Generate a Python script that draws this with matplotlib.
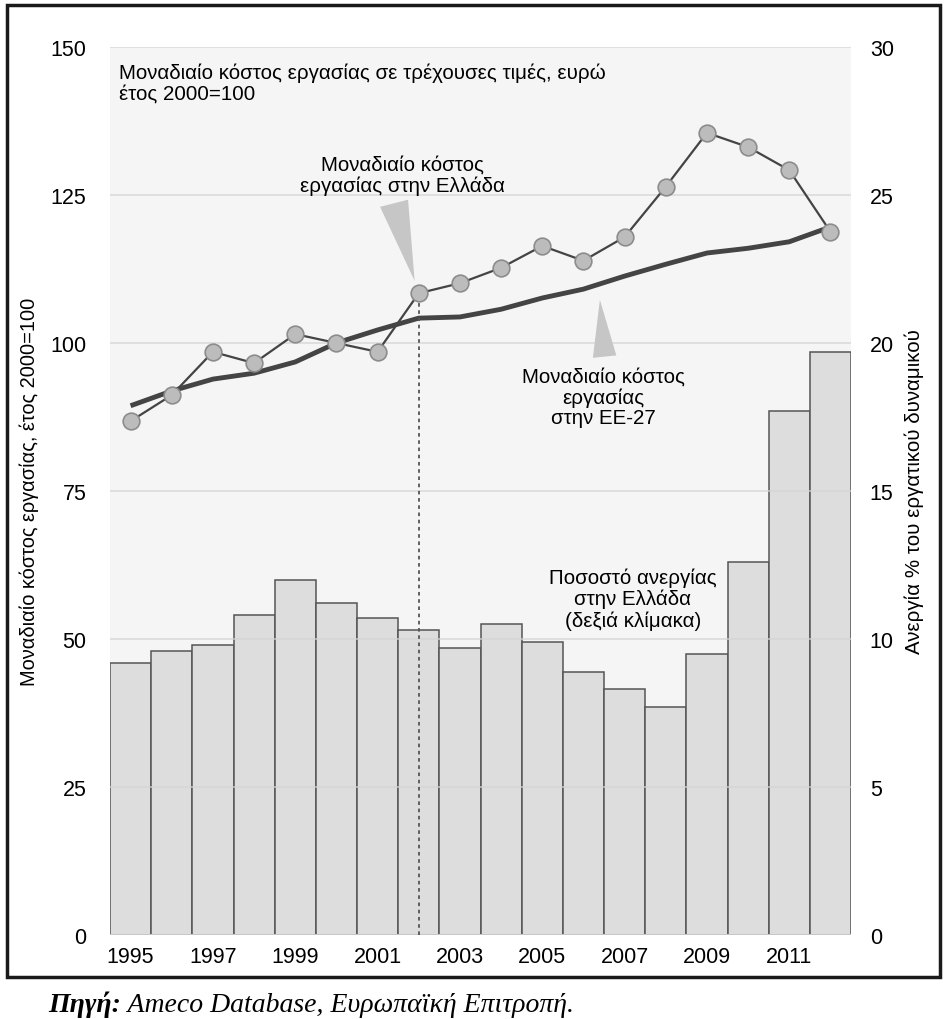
import matplotlib
matplotlib.use("Agg")
import matplotlib.pyplot as plt
from matplotlib.patches import Rectangle, Polygon

plt.rcParams['font.family'] = ['Liberation Sans', 'DejaVu Sans']

years = list(range(1995, 2013))
ulc_greece = [86.8, 91.2, 98.5, 96.6, 101.5, 100.0, 98.5, 108.4, 110.1, 112.7,
              116.4, 113.9, 117.9, 126.4, 135.5, 133.1, 129.2, 118.8]
ulc_eu27 = [89.4, 91.9, 93.9, 94.9, 96.8, 100.0, 102.2, 104.2, 104.4, 105.7,
            107.6, 109.1, 111.3, 113.3, 115.2, 116.0, 117.1, 119.6]
unemployment_gr = [9.2, 9.6, 9.8, 10.8, 12.0, 11.2, 10.7, 10.3, 9.7, 10.5,
                   9.9, 8.9, 8.3, 7.7, 9.5, 12.6, 17.7, 19.7]
xtick_years = list(range(1995, 2012, 2))
left_ticks = [0, 25, 50, 75, 100, 125, 150]
right_ticks = [0, 5, 10, 15, 20, 25, 30]

W, H = 949, 1020
fig = plt.figure(figsize=(W / 100, H / 100), dpi=100)

# outer frame
fig.patches.append(Rectangle((7 / W, 1 - 978 / H), 933 / W, 972 / H,
                             transform=fig.transFigure, fill=False,
                             edgecolor='#1a1a1a', linewidth=2.5))

rect = [110 / W, 1 - 936 / H, 741 / W, 888 / H]
ax2 = fig.add_axes(rect)               # bars, right scale
ax = fig.add_axes(rect, sharex=ax2)    # lines, left scale

ax2.set_facecolor('#f5f5f5')
ax.patch.set_visible(False)
ax.set_zorder(ax2.get_zorder() + 1)

FS = 14.8

# bars (right scale)
ax2.bar(years, unemployment_gr, width=1.0, color='#dddddd',
        edgecolor='#555555', linewidth=1.1, zorder=2)
ax2.set_ylim(0, 30)
ax2.set_xlim(1994.5, 2012.5)
ax2.yaxis.tick_right()
ax2.set_yticks(right_ticks)
ax2.tick_params(axis='y', length=0, pad=13.5, labelsize=15.5)
ax2.tick_params(axis='x', length=0, labelbottom=False)
ax2.yaxis.set_label_position('right')
ax2.set_ylabel('Ανεργία % του εργατικού δυναμικού', fontsize=FS, labelpad=8)
for s in ax2.spines.values():
    s.set_visible(False)

# lines (left scale)
ax.set_ylim(0, 150)
ax.set_yticks(left_ticks)
ax.grid(axis='y', color='#d4d4d4', linewidth=1.2, alpha=0.8, zorder=0)
ax.set_axisbelow(True)
ax.tick_params(axis='y', length=0, pad=17, labelsize=15.5)
ax.set_xticks(xtick_years)
ax.set_xticklabels([str(y) for y in xtick_years])
ax.tick_params(axis='x', length=0, pad=8, labelsize=15.5)
ax.set_ylabel('Μοναδιαίο κόστος εργασίας, έτος 2000=100', fontsize=14.4, labelpad=8)
for s in ax.spines.values():
    s.set_visible(False)
ax.axhline(0, color='#cccccc', linewidth=1.2, zorder=1)

ax.plot(years, ulc_eu27, color='#444444', linewidth=3.5, zorder=3,
        solid_capstyle='butt')
ax.plot(years, ulc_greece, color='#444444', linewidth=1.6, zorder=4,
        marker='o', markersize=12, markerfacecolor='#bcbcbc',
        markeredgecolor='#8c8c8c', markeredgewidth=1.2)

# dotted vertical line at 2002
i2002 = years.index(2002)
ax.plot([2002, 2002], [0, ulc_greece[i2002]], color='#555555', linewidth=1.3,
        linestyle=(0, (2, 2)), zorder=3)

# pointer triangles
ax.add_patch(Polygon([(2001.06, 123.0), (2001.74, 124.2), (2001.9, 110.5)],
                     closed=True, facecolor='#c6c6c6', edgecolor='none', zorder=2))
ax.add_patch(Polygon([(2006.23, 97.5), (2006.8, 97.9), (2006.4, 107.3)],
                     closed=True, facecolor='#c6c6c6', edgecolor='none', zorder=2))

# texts
ax.text(1994.73, 147.3, 'Μοναδιαίο κόστος εργασίας σε τρέχουσες τιμές, ευρώ\nέτος 2000=100',
        fontsize=FS, ha='left', va='top', linespacing=1.1, zorder=5)
ax.text(2001.6, 128.4, 'Μοναδιαίο κόστος\nεργασίας στην Ελλάδα', fontsize=FS,
        ha='center', va='center', linespacing=1.1, zorder=5)
ax.text(2006.48, 90.9, 'Μοναδιαίο κόστος\nεργασίας\nστην ΕΕ-27', fontsize=FS,
        ha='center', va='center', linespacing=1.1, zorder=5)
ax.text(2007.2, 56.8, 'Ποσοστό ανεργίας\nστην Ελλάδα\n(δεξιά κλίμακα)', fontsize=FS,
        ha='center', va='center', linespacing=1.1, zorder=5)

# footer
serif = ['Liberation Serif', 'DejaVu Serif']
t1 = fig.text(48 / W, 1 - 1005 / H, 'Πηγή:', fontsize=20, fontweight='bold',
              fontstyle='italic', family=serif, ha='left', va='center')
ann = plt.Annotation(' Ameco Database, Ευρωπαϊκή Επιτροπή.', xy=(1, 0), xycoords=t1,
                     fontsize=20, fontstyle='italic', family=serif,
                     ha='left', va='bottom', annotation_clip=False)
fig.add_artist(ann)

fig.savefig('out.png', dpi=100)
